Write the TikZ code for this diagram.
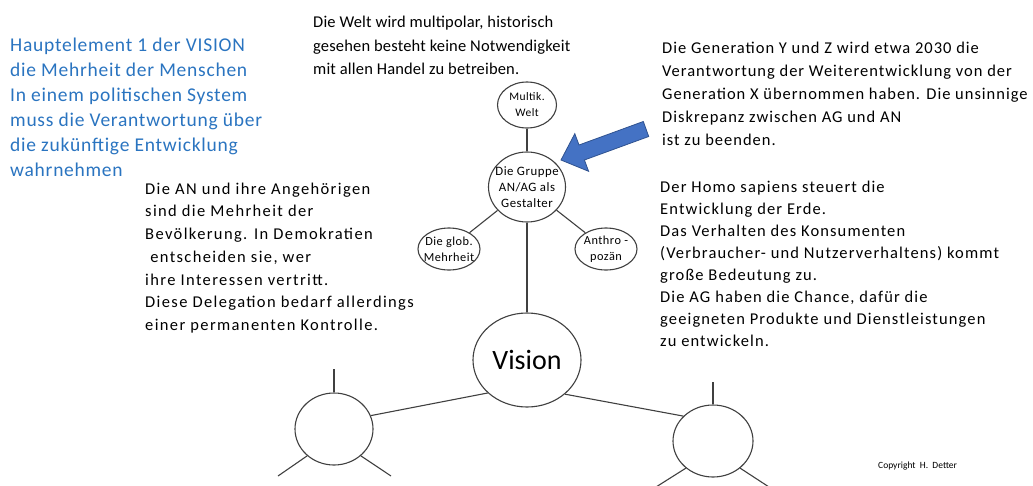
\documentclass[tikz,border=0pt]{standalone}
\usepackage{fontspec}
\setmainfont{Carlito}
\usetikzlibrary{shapes.geometric}
\definecolor{lineg}{HTML}{404040}
\definecolor{bluetxt}{HTML}{2A74C0}
\definecolor{arrowfill}{HTML}{4472C4}
\definecolor{arrowdraw}{HTML}{2F528F}
\begin{document}
\begin{tikzpicture}[x=1pt,y=-1pt,
  circ/.style={ellipse, draw=lineg, line width=1.1pt, inner sep=0pt, fill=white},
  lbl/.style={inner sep=0pt, align=center, font=\fontsize{12.3}{16}\selectfont\addfontfeatures{LetterSpace=4}},
  conn/.style={draw=lineg, line width=1.1pt},
  txt/.style={anchor=north west, inner sep=0pt, align=left},
]
\useasboundingbox (0,0) rectangle (1033,485);

\node[circ, minimum width=59pt, minimum height=46pt] (multik) at (527,105) {};
\node[circ, minimum width=77pt, minimum height=70pt] (gruppe) at (527,187) {};
\node[circ, minimum width=62pt, minimum height=42pt] (glob) at (449,249) {};
\node[circ, minimum width=62pt, minimum height=42pt] (anthro) at (606,249) {};
\node[circ, minimum width=108pt, minimum height=94pt] (vision) at (527,360) {};
\node[circ, minimum width=78pt, minimum height=72pt] (lcirc) at (334,429) {};
\node[circ, minimum width=80pt, minimum height=72pt] (rcirc) at (713,441) {};

\node[lbl, font=\fontsize{11.5}{16}\selectfont\addfontfeatures{LetterSpace=4}] (multiktxt) at (multik) {Multik.\\Welt};
\node[lbl, font=\fontsize{12.8}{16}\selectfont\addfontfeatures{LetterSpace=4}] (gruppetxt) at (gruppe) {Die Gruppe\\AN/AG als\\Gestalter};
\node[lbl] (globtxt) at (glob) {Die glob.\\Mehrheit};
\node[lbl] (anthrotxt) at (anthro) {Anthro -\\pozän};
\node[lbl, font=\fontsize{28}{30}\selectfont] (visiontxt) at (vision) {Vision};

\coordinate (ltop) at (334,369);
\coordinate (lbl1) at (278,476);
\coordinate (lbr1) at (391,476);
\coordinate (rtop) at (713,382);
\coordinate (rbl1) at (656,487);
\coordinate (rbr1) at (769,487);

\draw[conn] (multik) -- (gruppe);
\draw[conn] (gruppe) -- (glob);
\draw[conn] (gruppe) -- (anthro);
\draw[conn] (gruppe) -- (vision);
\draw[conn] (vision.220) -- (lcirc.20);
\draw[conn] (vision.-42) -- (rcirc.140);
\draw[conn] (ltop) -- (lcirc.north);
\draw[conn] (lcirc.225) -- (lbl1);
\draw[conn] (lcirc.-45) -- (lbr1);
\draw[conn] (rtop) -- (rcirc.north);
\draw[conn] (rcirc.225) -- (rbl1);
\draw[conn] (rcirc.-45) -- (rbr1);

% blue arrow
\filldraw[fill=arrowfill, draw=arrowdraw, line width=0.8pt, line join=miter]
  (561,160) -- (588.6,171.3) -- (584.4,160.0) -- (648.7,136.5) -- (643.3,121.5)
  -- (579.0,145.0) -- (574.8,133.7) -- cycle;

% texts
\node[txt, text=bluetxt, font=\fontsize{19.5}{25}\selectfont\addfontfeatures{LetterSpace=3.8}] (haupt) at (10,37.5)
  {Hauptelement 1 der VISION\\die Mehrheit der Menschen\\In einem politischen System\\muss die Verantwortung über\\die zukünftige Entwicklung\\wahrnehmen};
\node[txt, font=\fontsize{16.5}{23.5}\selectfont\addfontfeatures{LetterSpace=1}] (welt) at (313,16.3)
  {Die Welt wird multipolar, historisch\\gesehen besteht keine Notwendigkeit\\mit allen Handel zu betreiben.};
\node[txt, font=\fontsize{16.5}{22.9}\selectfont\addfontfeatures{LetterSpace=6}] (gen) at (662,42)
  {Die Generation Y und Z wird etwa 2030 die\\Verantwortung der Weiterentwicklung von der\\Generation X übernommen haben. Die unsinnige\\Diskrepanz zwischen AG und AN\\ist zu beenden.};
\node[txt, font=\fontsize{16.5}{22.75}\selectfont\addfontfeatures{LetterSpace=8.3}] (an) at (145,182.5)
  {Die AN und ihre Angehörigen\\sind die Mehrheit der\\Bevölkerung. In Demokratien\\\ entscheiden sie, wer\\ihre Interessen vertritt.\\Diese Delegation bedarf allerdings\\einer permanenten Kontrolle.};
\node[txt, font=\fontsize{16.5}{22.1}\selectfont\addfontfeatures{LetterSpace=6.8}] (homo) at (660,180.5)
  {Der Homo sapiens steuert die\\Entwicklung der Erde.\\Das Verhalten des Konsumenten\\(Verbraucher- und Nutzerverhaltens) kommt\\große Bedeutung zu.\\Die AG haben die Chance, dafür die\\geeigneten Produkte und Dienstleistungen\\zu entwickeln.};
\node[anchor=west, inner sep=0pt, font=\fontsize{9.5}{11}\selectfont] (copy) at (878,466)
  {Copyright\ \ H.\ \ Detter};
\end{tikzpicture}
\end{document}
